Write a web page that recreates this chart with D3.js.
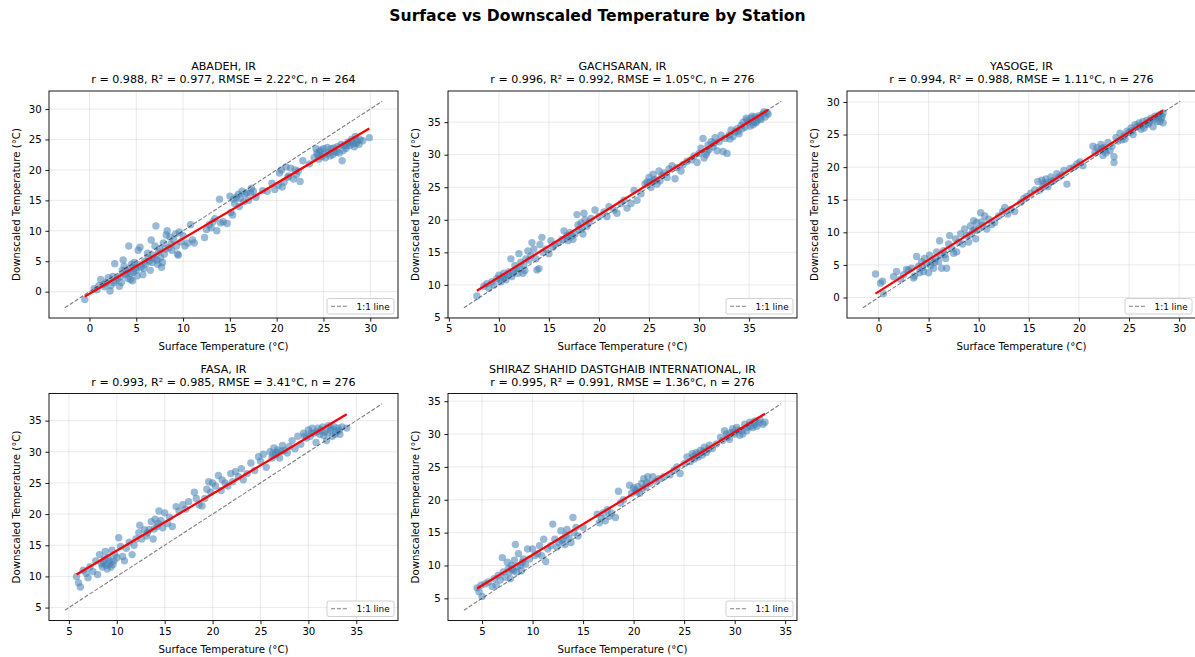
<!DOCTYPE html>
<html>
<head>
<meta charset="utf-8">
<script src="https://cdn.jsdelivr.net/npm/d3@7"></script>
<style>
  body { margin: 0; background: #fff; }
  text { font-family: "DejaVu Sans", sans-serif; fill: #000; }
</style>
</head>
<body>
<div id="chart"></div>
<script>
// Surface vs downscaled temperature, one scatter panel per station (2 x 3 grid, last cell empty)

// ---------------------------------- DATA ----------------------------------
const stations = ["ABADEH, IR", "GACHSARAN, IR", "YASOGE, IR", "FASA, IR", "SHIRAZ SHAHID DASTGHAIB INTERNATIONAL, IR"];
const rValues = ["0.988", "0.996", "0.994", "0.993", "0.995"];
const r2Values = ["0.977", "0.992", "0.988", "0.985", "0.991"];
const rmseValues = ["2.22", "1.05", "1.11", "3.41", "1.36"];
const nValues = [264, 276, 276, 276, 276];

// fitted regression line
const fitSlope = [0.908, 0.955, 0.979, 0.912, 0.933];
const fitIntercept = [-0.35, 1.65, 0.9, 5.01, 2.3];

// 1:1 reference line ends
const refLo = [-2.63, 6.5, -1.56, 4.58, 3.2];
const refHi = [31.27, 38.2, 30.1, 37.7, 34.6];

const xTicks = [[0, 5, 10, 15, 20, 25, 30], [5, 10, 15, 20, 25, 30, 35], [0, 5, 10, 15, 20, 25, 30], [5, 10, 15, 20, 25, 30, 35], [5, 10, 15, 20, 25, 30, 35]];
const yTicks = [[0, 5, 10, 15, 20, 25, 30], [5, 10, 15, 20, 25, 30, 35], [0, 5, 10, 15, 20, 25, 30], [5, 10, 15, 20, 25, 30, 35], [5, 10, 15, 20, 25, 30, 35]];

// [surface, downscaled]
const abadehPts = [[-0.5,-1.3],[0.5,0.5],[0.8,0.3],[1.0,1.0],[1.2,2.0],[1.5,1.2],[1.8,1.5],[2.0,2.3],[2.2,0.1],[2.3,1.0],[2.5,2.5],[2.7,4.6],[2.8,1.8],[3.0,2.2],[3.2,0.9],[3.4,1.5],[3.5,3.5],[3.6,5.2],[3.7,4.2],[3.8,2.8],[4.0,3.0],[4.1,2.2],[4.2,7.5],[4.3,3.8],[4.4,2.0],[4.5,4.5],[4.6,1.8],[4.7,3.2],[4.8,4.8],[5.0,3.5],[5.1,2.6],[5.2,6.8],[5.4,7.3],[5.5,4.0],[5.7,2.8],[5.9,5.0],[6.0,4.5],[6.2,6.3],[6.3,5.5],[6.5,3.5],[6.6,8.5],[6.7,4.8],[6.8,6.0],[7.0,7.5],[7.1,10.8],[7.2,5.2],[7.3,4.5],[7.4,6.5],[7.5,7.0],[7.7,4.0],[7.8,4.8],[7.9,8.0],[8.0,6.2],[8.2,9.3],[8.3,10.0],[8.5,7.2],[8.6,9.0],[8.8,6.8],[9.0,8.5],[9.2,9.5],[9.4,6.2],[9.5,6.0],[9.6,9.8],[9.8,8.2],[10.0,9.2],[10.2,7.5],[10.5,8.0],[10.8,11.0],[11.0,8.5],[11.2,8.0],[12.3,8.9],[12.5,10.2],[12.8,11.0],[13.0,10.5],[13.2,11.5],[13.4,12.0],[13.6,10.0],[13.9,15.2],[14.0,11.3],[14.3,11.5],[14.7,11.2],[15.0,15.7],[15.1,13.0],[15.3,12.6],[15.5,14.5],[15.7,15.5],[15.9,16.0],[16.0,14.0],[16.3,16.5],[16.5,14.8],[16.8,16.2],[17.0,15.0],[17.3,17.0],[17.5,16.5],[17.8,15.5],[18.5,16.6],[19.0,16.5],[19.5,17.8],[19.8,16.8],[20.2,17.5],[20.3,19.5],[20.5,20.0],[20.8,18.0],[21.0,20.5],[21.3,19.0],[21.5,20.3],[21.8,18.5],[22.0,20.0],[22.3,19.8],[22.5,18.1],[22.8,21.5],[23.5,21.0],[24.0,22.0],[24.2,23.5],[24.4,22.5],[24.5,21.8],[24.6,23.0],[24.8,22.2],[25.0,23.5],[25.2,22.0],[25.5,22.8],[25.8,23.5],[26.0,22.5],[26.2,23.0],[26.5,23.8],[26.7,22.8],[27.0,21.5],[27.2,24.0],[27.4,23.5],[27.6,24.5],[27.8,24.0],[28.0,25.0],[28.2,24.3],[28.4,25.5],[28.6,24.8],[28.8,24.2],[29.2,24.8],[29.9,25.3],
  [24.3,22.8],[24.7,23.3],[25.1,22.6],[25.4,23.7],[25.7,22.3],[26.1,23.6],[26.4,22.9],[26.9,24.2],[27.1,23.2],[27.5,24.0],[27.9,24.6],[28.3,23.8],[28.5,24.4],[28.9,25.0],[16.1,15.3],[16.6,16.0],[15.4,15.2],[17.2,16.2],[20.6,17.2],[21.2,18.8],[22.1,19.2],[3.3,2.5],[3.9,3.5],[4.4,3.0],[4.9,3.9],[5.3,4.4],[5.8,3.8],[6.4,5.0],[6.9,5.5],[7.6,5.6],[8.1,7.0],[8.7,7.8],[9.3,7.5],[1.6,0.8],[2.6,1.5]];

const gachsaranPts = [[7.8,8.3],[8.5,9.8],[8.8,10.2],[9.0,9.5],[9.3,10.5],[9.5,10.0],[9.8,11.0],[10.0,11.5],[10.2,10.5],[10.4,11.2],[10.5,11.8],[10.7,10.8],[10.9,11.5],[11.0,12.0],[11.2,14.0],[11.3,11.3],[11.5,12.2],[11.6,13.0],[11.8,12.5],[11.9,11.8],[12.0,14.8],[12.2,13.5],[12.4,11.8],[12.5,13.0],[12.7,14.0],[12.9,15.2],[13.0,13.8],[13.2,14.5],[13.3,16.5],[13.5,15.5],[13.7,14.0],[13.8,12.3],[14.0,12.5],[14.1,16.2],[14.3,17.3],[14.4,15.0],[14.7,15.5],[15.0,14.8],[15.2,16.8],[15.4,15.8],[15.6,16.2],[16.0,16.5],[16.3,17.0],[16.5,18.3],[16.7,17.2],[16.9,16.8],[17.1,18.0],[17.3,17.5],[17.6,17.8],[17.8,20.8],[17.9,19.2],[18.0,18.5],[18.2,19.5],[18.4,17.8],[18.5,21.0],[18.6,20.0],[18.8,19.0],[19.2,20.2],[19.6,21.5],[20.0,20.5],[20.5,21.2],[20.8,20.5],[21.0,22.0],[21.5,21.5],[21.8,21.0],[22.2,22.5],[22.5,23.0],[22.8,21.8],[23.2,22.5],[23.5,24.5],[23.8,23.0],[24.2,24.0],[24.6,25.5],[24.8,25.8],[25.0,26.5],[25.2,25.0],[25.4,27.0],[25.6,26.2],[25.8,25.5],[26.0,27.5],[26.3,26.8],[26.5,27.2],[26.8,26.5],[27.0,27.8],[27.3,28.3],[27.6,26.3],[27.8,28.0],[28.2,27.5],[28.4,28.5],[28.8,29.0],[29.2,29.2],[29.5,29.8],[29.8,28.8],[30.0,30.2],[30.2,31.0],[30.4,32.5],[30.5,29.5],[30.7,30.0],[30.9,31.5],[31.0,30.8],[31.2,32.0],[31.4,31.2],[31.6,32.6],[31.8,30.6],[32.0,32.0],[32.2,33.0],[32.4,30.5],[32.6,32.5],[32.8,30.2],[33.0,33.0],[33.2,33.8],[33.4,32.8],[33.6,33.5],[33.8,34.0],[34.0,33.2],[34.2,34.5],[34.4,35.0],[34.6,34.2],[34.8,35.3],[35.0,35.0],[35.2,35.6],[35.4,34.6],[35.5,35.0],[35.6,35.8],[35.8,35.2],[36.0,36.0],[36.2,35.4],[36.4,36.3],[36.6,35.8],[36.8,36.5],[36.9,36.2],
  [34.3,34.0],[34.7,35.6],[35.1,34.4],[35.3,35.9],[35.7,34.9],[36.1,35.6],[36.5,36.6],[33.1,32.4],[33.9,33.6],[31.5,31.8],[30.8,30.4],[25.1,25.8],[25.5,26.0],[26.1,26.0],[10.1,10.8],[10.6,11.3],[11.4,11.8],[12.1,12.5],[12.6,12.2],[16.8,17.6],[17.4,17.0],[18.3,18.6],[19.0,19.6]];

const yasogePts = [[-0.3,3.6],[0.2,2.2],[0.4,2.5],[0.5,0.6],[1.5,3.2],[1.8,4.0],[2.2,2.8],[2.5,3.5],[2.8,4.3],[3.0,4.2],[3.3,4.5],[3.5,3.0],[3.6,3.3],[3.8,6.3],[4.0,4.8],[4.1,3.8],[4.3,5.5],[4.5,4.0],[4.6,6.0],[4.8,5.2],[5.0,3.8],[5.1,6.5],[5.3,5.5],[5.5,4.5],[5.7,6.0],[5.8,7.0],[6.0,5.5],[6.1,8.7],[6.2,6.5],[6.3,4.5],[6.5,7.2],[6.7,6.0],[6.8,4.5],[7.0,8.2],[7.1,9.5],[7.3,7.5],[7.5,6.8],[7.7,9.0],[7.8,7.0],[8.0,8.5],[8.2,9.8],[8.4,8.2],[8.6,10.5],[8.8,9.5],[9.0,8.5],[9.2,11.0],[9.4,10.2],[9.5,11.8],[9.7,9.0],[9.8,11.5],[10.0,10.5],[10.2,13.0],[10.4,11.0],[10.6,12.5],[10.8,10.5],[11.0,12.0],[11.3,11.2],[11.6,11.5],[12.0,12.5],[12.4,13.2],[12.6,13.8],[12.9,12.8],[13.2,13.5],[13.6,13.2],[14.2,14.6],[14.5,15.2],[14.8,15.5],[15.2,16.0],[15.6,16.5],[15.9,17.8],[16.1,16.5],[16.3,18.0],[16.5,17.5],[16.7,18.2],[16.9,17.0],[17.2,18.5],[17.5,18.0],[17.8,19.0],[18.0,18.5],[18.3,18.8],[18.5,19.5],[18.8,17.4],[19.1,19.8],[19.5,20.0],[19.8,20.5],[20.1,20.8],[20.4,20.2],[21.4,23.2],[21.6,22.2],[21.8,23.0],[22.0,22.5],[22.2,23.5],[22.4,21.8],[22.5,23.0],[22.7,22.2],[22.9,23.8],[23.1,22.5],[23.3,23.2],[23.5,20.7],[23.5,21.6],[23.7,24.5],[23.9,24.0],[24.1,25.2],[24.3,24.2],[24.5,24.8],[24.8,25.5],[25.0,25.3],[25.2,26.0],[25.4,25.0],[25.6,26.5],[25.8,26.2],[26.0,26.8],[26.2,25.8],[26.4,27.0],[26.6,26.5],[26.8,27.2],[27.0,26.8],[27.2,27.5],[27.4,26.2],[27.6,27.8],[27.8,27.0],[28.0,28.0],[28.2,27.5],[28.4,26.8],[28.4,28.3],
  [26.1,26.4],[26.5,26.0],[26.9,26.6],[27.1,27.1],[27.5,27.3],[27.9,27.6],[28.1,27.0],[28.3,27.8],[25.3,25.6],[24.6,24.3],[22.3,22.9],[22.6,22.6],[16.4,17.0],[16.8,17.6],[17.3,17.8],[9.1,9.6],[9.6,10.4],[10.3,11.6],[4.4,4.6],[5.2,4.9],[5.6,5.4],[6.6,6.6]];

const fasaPts = [[5.8,10.0],[6.0,9.0],[6.2,8.3],[6.5,11.0],[6.8,10.5],[7.0,9.8],[7.2,11.5],[7.5,10.8],[7.8,12.5],[8.0,10.3],[8.2,13.5],[8.4,12.0],[8.5,11.5],[8.7,12.8],[8.8,14.0],[9.0,11.2],[9.1,13.0],[9.2,12.0],[9.4,11.5],[9.5,14.2],[9.7,12.5],[9.8,13.5],[10.0,13.0],[10.2,16.2],[10.4,14.8],[10.6,13.2],[10.8,12.5],[11.0,14.5],[11.3,15.5],[11.6,13.5],[11.8,15.0],[12.0,16.0],[12.3,17.0],[12.4,18.2],[12.6,16.0],[12.9,17.5],[13.1,16.5],[13.4,17.5],[13.6,18.8],[13.8,16.0],[14.0,19.2],[14.2,18.0],[14.4,20.5],[14.6,19.0],[14.8,17.8],[15.0,20.2],[15.3,18.5],[15.5,19.5],[15.8,18.0],[16.2,21.2],[16.5,20.5],[16.9,21.5],[17.2,20.8],[17.5,22.0],[18.1,23.5],[18.3,22.5],[18.6,21.5],[18.9,21.3],[19.2,22.5],[19.4,24.0],[19.6,25.2],[19.8,23.5],[20.0,25.0],[20.3,24.5],[20.6,26.2],[20.9,23.8],[21.0,25.5],[21.3,25.0],[21.6,24.5],[21.9,26.5],[22.1,25.2],[22.4,26.8],[22.7,26.0],[23.0,27.3],[23.2,25.5],[23.6,26.5],[24.0,28.2],[24.4,27.0],[24.8,29.2],[25.0,28.5],[25.3,29.6],[25.6,27.5],[26.0,30.0],[26.2,29.0],[26.4,30.6],[26.6,29.5],[26.8,30.3],[27.0,29.0],[27.3,31.0],[27.5,30.2],[27.8,29.8],[28.0,30.8],[28.3,31.8],[28.6,30.5],[28.9,32.5],[29.2,31.2],[29.5,33.0],[29.8,32.2],[30.0,33.5],[30.2,32.5],[30.4,33.8],[30.6,33.0],[30.8,31.5],[31.0,33.8],[31.2,32.8],[31.5,34.0],[31.7,33.2],[31.9,31.8],[32.1,34.2],[32.3,33.5],[32.5,32.5],[32.7,34.0],[32.9,33.2],[33.1,33.8],[33.3,32.8],[33.5,34.0],[34.0,33.8],
  [30.3,33.0],[30.9,33.2],[31.3,33.5],[31.6,32.6],[32.0,33.0],[32.4,33.8],[32.8,32.8],[33.2,33.4],[29.6,32.5],[26.3,29.6],[26.7,29.9],[27.2,30.1],[8.6,12.2],[8.9,11.8],[9.3,12.5],[9.6,11.9],[13.2,17.0],[13.9,17.6],[14.3,18.5]];

const shirazPts = [[4.5,6.6],[4.7,6.0],[4.9,7.0],[5.0,5.3],[5.3,7.2],[5.6,7.5],[6.0,6.8],[6.2,8.0],[6.4,7.0],[6.6,8.5],[6.8,7.8],[7.0,11.2],[7.1,9.0],[7.3,8.2],[7.5,10.5],[7.6,9.5],[7.8,8.0],[7.9,10.0],[8.1,9.2],[8.2,10.8],[8.3,13.2],[8.4,9.0],[8.6,11.8],[8.8,10.0],[8.9,9.2],[9.1,11.0],[9.3,10.2],[9.5,12.5],[9.7,11.0],[10.0,12.5],[10.2,11.5],[10.5,11.8],[10.7,13.0],[10.9,11.5],[11.1,14.0],[11.3,10.6],[11.5,12.5],[11.8,13.0],[12.0,16.3],[12.2,14.0],[12.4,12.8],[12.6,13.5],[12.8,15.3],[13.0,14.0],[13.2,13.2],[13.4,15.5],[13.6,14.2],[13.8,13.5],[14.0,17.3],[14.1,15.0],[14.3,15.8],[14.5,14.5],[15.0,15.8],[16.4,17.8],[16.6,16.5],[16.8,17.2],[17.0,18.0],[17.2,16.8],[17.4,18.5],[17.6,17.5],[17.8,18.0],[18.2,17.3],[18.5,21.3],[18.7,19.5],[19.0,20.0],[19.6,22.2],[19.8,21.0],[20.0,21.8],[20.2,21.5],[20.4,22.0],[20.6,21.0],[20.8,22.5],[21.0,23.2],[21.2,22.0],[21.4,23.5],[21.6,22.5],[21.9,23.5],[22.2,22.8],[22.5,23.2],[23.0,23.5],[23.6,23.8],[24.0,24.5],[24.3,25.0],[24.6,24.0],[25.0,25.5],[25.3,26.5],[25.6,25.8],[25.8,27.0],[26.0,26.2],[26.2,27.2],[26.4,26.5],[26.6,27.5],[26.8,26.8],[27.0,28.0],[27.2,27.2],[27.5,28.3],[27.8,27.8],[28.2,28.5],[28.6,29.5],[28.8,29.0],[29.0,30.5],[29.3,29.5],[29.6,30.2],[29.8,30.8],[30.0,30.0],[30.2,31.0],[30.5,29.8],[30.7,30.5],[31.0,31.5],[31.2,30.5],[31.5,31.8],[31.8,31.0],[32.0,32.0],[32.2,31.2],[32.5,32.2],[32.8,31.5],[33.0,31.8],
  [29.2,30.0],[29.5,29.2],[29.9,30.3],[30.4,30.6],[30.8,30.0],[31.3,31.0],[31.6,31.2],[32.0,31.5],[32.4,31.7],[25.9,26.6],[26.3,26.9],[26.9,27.4],[27.4,27.7],[20.3,21.2],[20.9,21.7],[21.3,22.6],[7.7,9.0],[8.0,9.5],[8.5,9.8],[9.0,10.5],[12.9,13.8],[13.3,14.6]];

const allPts = [abadehPts, gachsaranPts, yasogePts, fasaPts, shirazPts];

// ---------------------------------- LAYOUT ----------------------------------
const W = 1195, H = 657;
const panelW = 349, panelH = 227;
const colLeft = [49, 448, 847];
const rowTop = [91, 393.5];
const titleSize = 11.1;  // subplot titles
const labelSize = 10.2;  // ticks and axis labels

const svg = d3.select("#chart")
  .append("svg")
  .attr("width", W)
  .attr("height", H);

// figure title
svg.append("text")
  .attr("x", W / 2)
  .attr("y", 21)
  .attr("text-anchor", "middle")
  .style("font-size", "15.6px")
  .style("font-weight", "bold")
  .text("Surface vs Downscaled Temperature by Station");

stations.forEach(function (name, i) {
  const col = i % 3, row = Math.floor(i / 3);
  const pts = allPts[i];

  // axis limits = 1:1 line range plus 5% margins (as matplotlib does)
  const pad = (refHi[i] - refLo[i]) * 0.05;
  const dom = [refLo[i] - pad, refHi[i] + pad];

  const x = d3.scaleLinear().domain(dom).range([0, panelW]);
  const y = d3.scaleLinear().domain(dom).range([panelH, 0]);

  const g = svg.append("g")
    .attr("transform", `translate(${colLeft[col]}, ${rowTop[row]})`);

  // grid
  g.append("g")
    .selectAll("line")
    .data(xTicks[i])
    .enter()
    .append("line")
    .attr("x1", d => x(d)).attr("x2", d => x(d))
    .attr("y1", 0).attr("y2", panelH)
    .attr("stroke", "#b0b0b0").attr("stroke-opacity", 0.3).attr("stroke-width", 0.9);
  g.append("g")
    .selectAll("line")
    .data(yTicks[i])
    .enter()
    .append("line")
    .attr("y1", d => y(d)).attr("y2", d => y(d))
    .attr("x1", 0).attr("x2", panelW)
    .attr("stroke", "#b0b0b0").attr("stroke-opacity", 0.3).attr("stroke-width", 0.9);

  // points
  g.append("g")
    .selectAll("circle")
    .data(pts)
    .enter()
    .append("circle")
    .attr("cx", d => x(d[0]))
    .attr("cy", d => y(d[1]))
    .attr("r", 3.7)
    .style("fill", "steelblue")
    .style("opacity", 0.55);

  // 1:1 line
  g.append("line")
    .attr("x1", x(refLo[i])).attr("y1", y(refLo[i]))
    .attr("x2", x(refHi[i])).attr("y2", y(refHi[i]))
    .attr("stroke", "#000").attr("stroke-opacity", 0.5)
    .attr("stroke-width", 1.1)
    .attr("stroke-dasharray", "4.1,1.8");

  // regression line over the data range
  const xmin = d3.min(pts, d => d[0]), xmax = d3.max(pts, d => d[0]);
  const fit = v => fitSlope[i] * v + fitIntercept[i];
  g.append("line")
    .attr("x1", x(xmin)).attr("y1", y(fit(xmin)))
    .attr("x2", x(xmax)).attr("y2", y(fit(xmax)))
    .attr("stroke", "red")
    .attr("stroke-width", 2.2);

  // axes
  const xAxis = g.append("g")
    .attr("transform", `translate(0, ${panelH})`)
    .call(d3.axisBottom(x).tickValues(xTicks[i]).tickSize(3.6).tickPadding(3.6));
  const yAxis = g.append("g")
    .call(d3.axisLeft(y).tickValues(yTicks[i]).tickSize(3.6).tickPadding(3.6));
  [xAxis, yAxis].forEach(function (a) {
    a.select(".domain").remove();
    a.selectAll("line").attr("stroke", "#000").attr("stroke-width", 0.9);
    a.selectAll("text")
      .style("font-size", labelSize + "px")
      .style("font-family", "DejaVu Sans, sans-serif")
      .attr("fill", "#000");
  });

  // frame
  g.append("rect")
    .attr("width", panelW).attr("height", panelH)
    .attr("fill", "none")
    .attr("stroke", "#000").attr("stroke-width", 0.9);

  // titles
  g.append("text")
    .attr("x", panelW / 2).attr("y", -21)
    .attr("text-anchor", "middle")
    .style("font-size", titleSize + "px")
    .text(name);
  g.append("text")
    .attr("x", panelW / 2).attr("y", -8)
    .attr("text-anchor", "middle")
    .style("font-size", titleSize + "px")
    .text(`r = ${rValues[i]}, R² = ${r2Values[i]}, RMSE = ${rmseValues[i]}°C, n = ${nValues[i]}`);

  // axis labels
  g.append("text")
    .attr("x", panelW / 2).attr("y", panelH + 32)
    .attr("text-anchor", "middle")
    .style("font-size", labelSize + "px")
    .text("Surface Temperature (°C)");
  g.append("text")
    .attr("transform", `translate(-29, ${panelH / 2}) rotate(-90)`)
    .attr("text-anchor", "middle")
    .style("font-size", labelSize + "px")
    .text("Downscaled Temperature (°C)");

  // legend
  const lg = g.append("g")
    .attr("transform", `translate(${panelW - 71}, ${panelH - 19.5})`);
  lg.append("rect")
    .attr("width", 67).attr("height", 15.5)
    .attr("rx", 2)
    .attr("fill", "#fff").attr("fill-opacity", 0.8)
    .attr("stroke", "#ccc").attr("stroke-width", 0.9);
  lg.append("line")
    .attr("x1", 4).attr("x2", 21)
    .attr("y1", 7.75).attr("y2", 7.75)
    .attr("stroke", "#000").attr("stroke-opacity", 0.5)
    .attr("stroke-width", 1.1)
    .attr("stroke-dasharray", "4.1,1.8");
  lg.append("text")
    .attr("x", 29.5).attr("y", 11)
    .style("font-size", "8.9px")
    .text("1:1 line");
});
</script>
</body>
</html>
